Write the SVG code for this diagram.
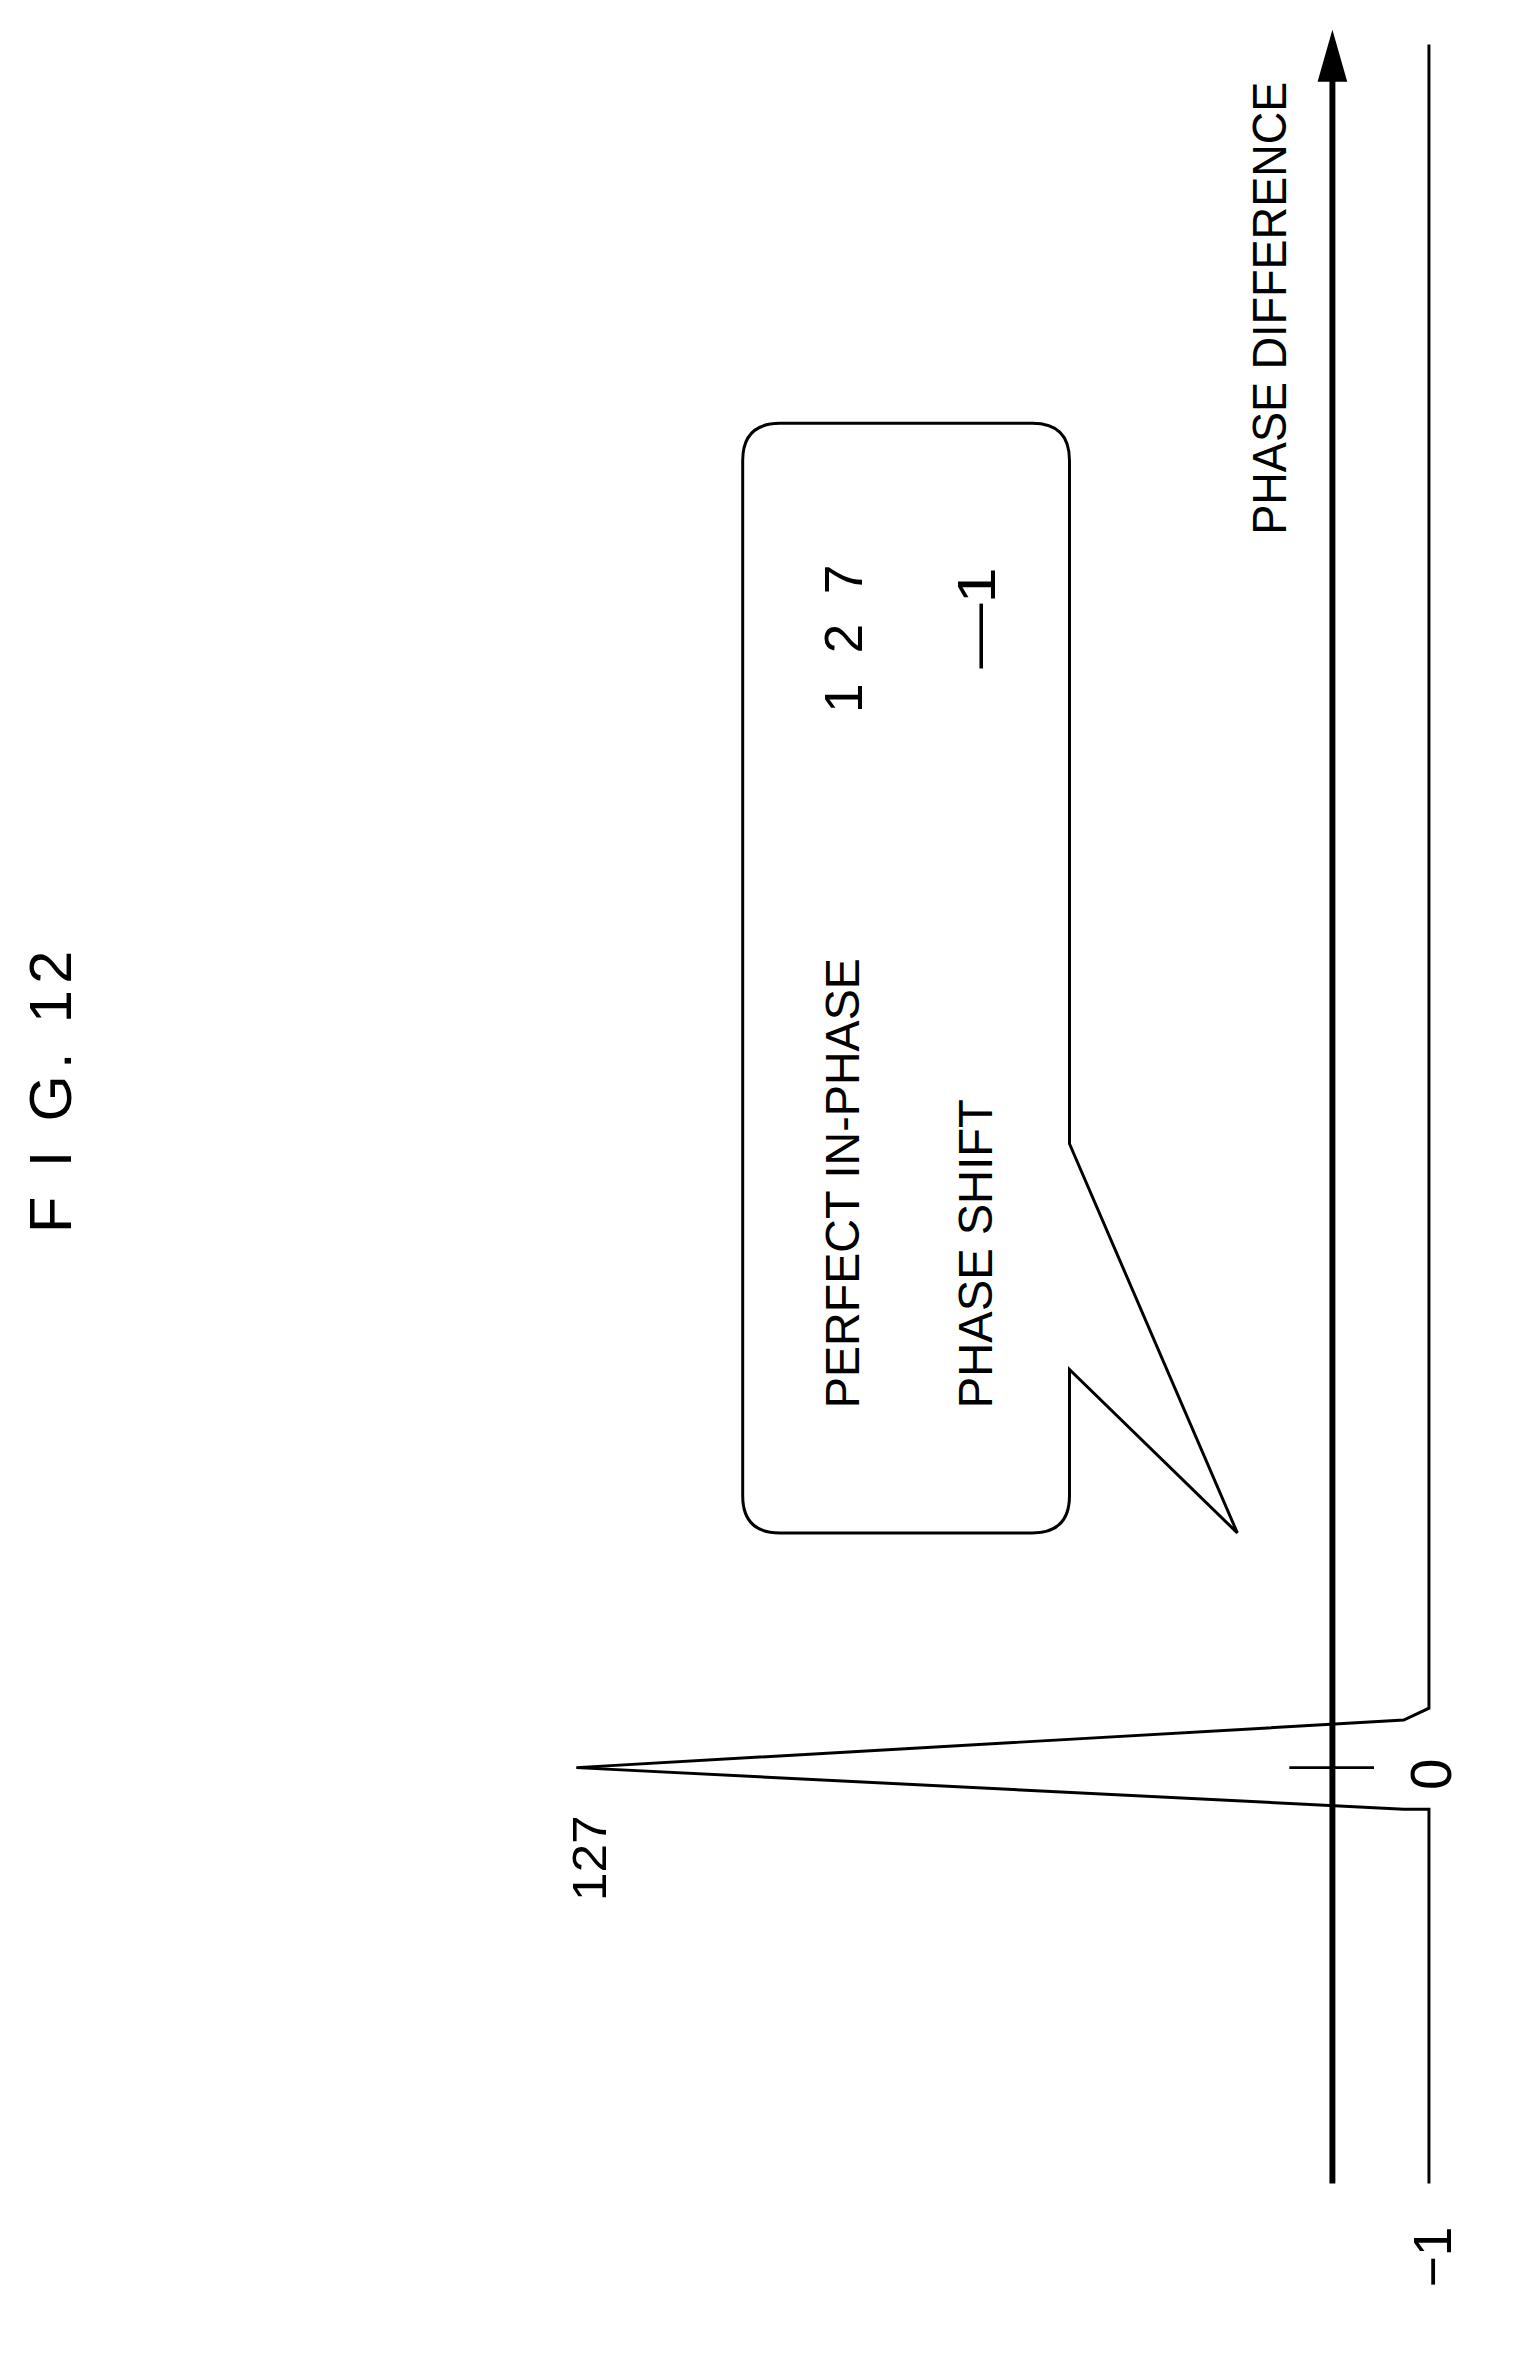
<svg xmlns="http://www.w3.org/2000/svg" width="1521" height="2353" viewBox="0 0 1521 2353">
<style>
.l{fill:none;stroke:#000;stroke-width:2}
.t{font-family:"Liberation Sans",Arial,sans-serif;fill:#000}
</style>
<rect width="1521" height="2353" fill="#fff"/>
<g transform="scale(1.4854)">
<g id="connectors">
<line x1="897" y1="1470" x2="897" y2="45" stroke="#000" stroke-width="4"/>
<path d="M887,55 L897,20 L907,55 Z"/>
<line class="l" x1="868" y1="1190" x2="925" y2="1190"/>
<polyline class="l" points="962,30 962,1150 945,1158 388,1190 945,1218 962,1218 962,1470"/>
</g>
<g id="title"><text class="t" font-size="40" transform="translate(48,830) rotate(-90)" textLength="190" lengthAdjust="spacing">F I G. 12</text></g>
<g id="labels">
<text class="t" font-size="38" transform="translate(977,1205) rotate(-90)">0</text>
<text class="t" font-size="36" transform="translate(977,1540) rotate(-90)">−1</text>
<text class="t" font-size="32" transform="translate(408,1280) rotate(-90)" textLength="58" lengthAdjust="spacingAndGlyphs">127</text>
<text class="t" font-size="32" transform="translate(866,360) rotate(-90)" textLength="305" lengthAdjust="spacingAndGlyphs">PHASE DIFFERENCE</text>
</g>
<g id="callout">
<path class="l" d="M525,285 H695 Q720,285 720,310 V770 L833,1032 L720,922 V1007 Q720,1032 695,1032 H525 Q500,1032 500,1007 V310 Q500,285 525,285 Z"/>
<text class="t" font-size="32" transform="translate(578,948) rotate(-90)" textLength="303" lengthAdjust="spacingAndGlyphs">PERFECT IN-PHASE</text>
<text class="t" font-size="36" transform="translate(580,480) rotate(-90)" textLength="100" lengthAdjust="spacing">1 2 7</text>
<text class="t" font-size="32" transform="translate(668,948) rotate(-90)" textLength="208" lengthAdjust="spacingAndGlyphs">PHASE SHIFT</text>
<text class="t" font-size="36" transform="translate(670,450) rotate(-90)" textLength="68" lengthAdjust="spacingAndGlyphs">—1</text>
</g>
</g>
</svg>
